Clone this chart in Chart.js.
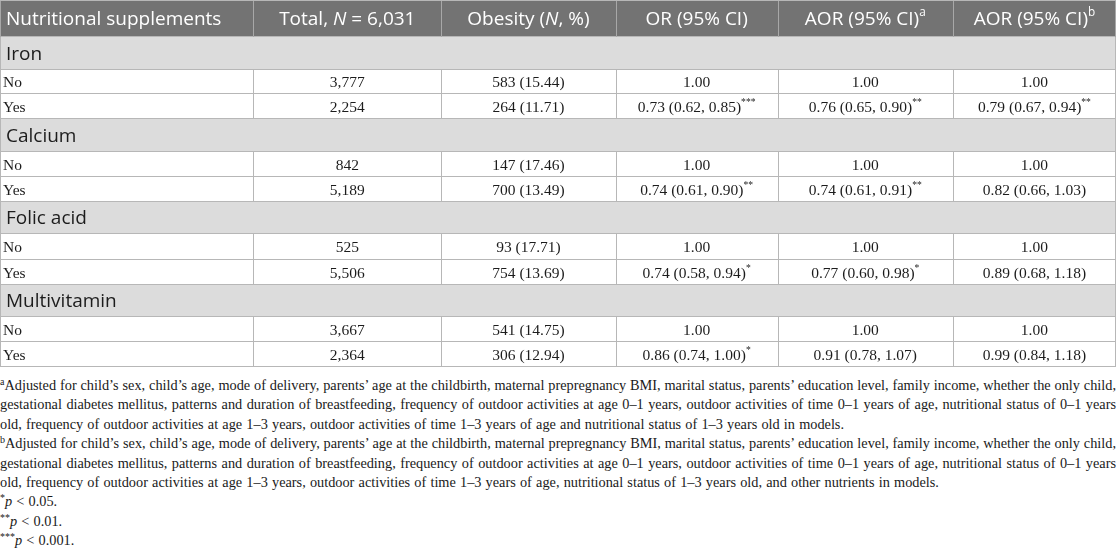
<!DOCTYPE html>
<html>
<head>
<meta charset="utf-8">
<script src="https://cdn.jsdelivr.net/npm/chart.js@4.4.1/dist/chart.umd.min.js"></script>
<style>
  html, body { margin: 0; padding: 0; background: #fff; }
  #wrap { width: 1116px; height: 367px; position: relative; }
  #notes { width: 1116px; margin-top: 9px; font-family: 'Liberation Serif', serif; font-size: 14.3px; line-height: 19.4px; color: #1a1a1a; }
  #notes div { text-align: justify; text-align-last: justify; white-space: nowrap; }
  #notes div.end { text-align-last: left; word-spacing: 0.6px; }
  #notes sup { font-size: 10px; line-height: 0; vertical-align: 5px; }
</style>
</head>
<body>
<div id="wrap"><canvas id="table"></canvas></div>
<div id="notes">
  <div><sup>a</sup>Adjusted for child’s sex, child’s age, mode of delivery, parents’ age at the childbirth, maternal prepregnancy BMI, marital status, parents’ education level, family income, whether the only child,</div>
  <div>gestational diabetes mellitus, patterns and duration of breastfeeding, frequency of outdoor activities at age 0–1 years, outdoor activities of time 0–1 years of age, nutritional status of 0–1 years</div>
  <div class="end">old, frequency of outdoor activities at age 1–3 years, outdoor activities of time 1–3 years of age and nutritional status of 1–3 years old in models.</div>
  <div><sup>b</sup>Adjusted for child’s sex, child’s age, mode of delivery, parents’ age at the childbirth, maternal prepregnancy BMI, marital status, parents’ education level, family income, whether the only child,</div>
  <div>gestational diabetes mellitus, patterns and duration of breastfeeding, frequency of outdoor activities at age 0–1 years, outdoor activities of time 0–1 years of age, nutritional status of 0–1 years</div>
  <div class="end">old, frequency of outdoor activities at age 1–3 years, outdoor activities of time 1–3 years of age, nutritional status of 1–3 years old, and other nutrients in models.</div>
  <div class="end"><sup>*</sup><i>p</i> &lt; 0.05.</div>
  <div class="end"><sup>**</sup><i>p</i> &lt; 0.01.</div>
  <div class="end"><sup>***</sup><i>p</i> &lt; 0.001.</div>
</div>
<script>
// Table data
const groups = ['Iron', 'Calcium', 'Folic acid', 'Multivitamin'];
const answers = ['No', 'Yes'];
const totalNo = [3777, 842, 525, 3667];
const totalYes = [2254, 5189, 5506, 2364];
const obeseNo = [583, 147, 93, 541];
const obeseYes = [264, 700, 754, 306];
const pctNo = [15.44, 17.46, 17.71, 14.75];
const pctYes = [11.71, 13.49, 13.69, 12.94];
const refValue = 1.00;
const orEst = [0.73, 0.74, 0.74, 0.86];
const orLow = [0.62, 0.61, 0.58, 0.74];
const orHigh = [0.85, 0.90, 0.94, 1.00];
const orSig = ['***', '**', '*', '*'];
const aorAEst = [0.76, 0.74, 0.77, 0.91];
const aorALow = [0.65, 0.61, 0.60, 0.78];
const aorAHigh = [0.90, 0.91, 0.98, 1.07];
const aorASig = ['**', '**', '*', ''];
const aorBEst = [0.79, 0.82, 0.89, 0.99];
const aorBLow = [0.67, 0.66, 0.68, 0.84];
const aorBHigh = [0.94, 1.03, 1.18, 1.18];
const aorBSig = ['**', '', '', ''];

// header text as runs (it = italic, sup = superscript)
const headers = [
  [{ t: 'Nutritional supplements' }],
  [{ t: 'Total, ' }, { t: 'N', it: true }, { t: ' = 6,031' }],
  [{ t: 'Obesity (' }, { t: 'N', it: true }, { t: ', %)' }],
  [{ t: 'OR (95% CI)' }],
  [{ t: 'AOR (95% CI)' }, { t: 'a', sup: true }],
  [{ t: 'AOR (95% CI)' }, { t: 'b', sup: true }]
];

// layout
const colUnits = [253, 188, 174, 162, 175, 163];
const rowUnits = { head: 1.48, group: 1.3, item: 1 };
const headBg = '#737373';
const groupBg = '#dcdcdc';
const lineColor = '#b7b7b7';
const headLine = '#a8a8a8';
const sansFont = "'Open Sans', sans-serif";
const serifFont = "'Liberation Serif', serif";

const fmtN = v => v.toLocaleString('en-US');
const fmtCI = (e, l, h, s) => {
  const runs = [{ t: `${e.toFixed(2)} (${l.toFixed(2)}, ${h.toFixed(2)})` }];
  if (s) runs.push({ t: s, sup: true });
  return runs;
};

// build the row list
const rows = [{ kind: 'head', cells: headers }];
groups.forEach((g, i) => {
  rows.push({ kind: 'group', label: g });
  rows.push({ kind: 'item', cells: [
    [{ t: answers[0] }], [{ t: fmtN(totalNo[i]) }], [{ t: `${obeseNo[i]} (${pctNo[i].toFixed(2)})` }],
    [{ t: refValue.toFixed(2) }], [{ t: refValue.toFixed(2) }], [{ t: refValue.toFixed(2) }]
  ] });
  rows.push({ kind: 'item', cells: [
    [{ t: answers[1] }], [{ t: fmtN(totalYes[i]) }], [{ t: `${obeseYes[i]} (${pctYes[i].toFixed(2)})` }],
    fmtCI(orEst[i], orLow[i], orHigh[i], orSig[i]),
    fmtCI(aorAEst[i], aorALow[i], aorAHigh[i], aorASig[i]),
    fmtCI(aorBEst[i], aorBLow[i], aorBHigh[i], aorBSig[i])
  ] });
});

const totalRows = rows.reduce((a, r) => a + rowUnits[r.kind], 0);
const totalCols = colUnits.reduce((a, c) => a + c, 0);

// draw a list of text runs at one baseline
function drawRuns(ctx, runs, x, y, align, size, family, color) {
  const fontOf = r => `${r.it ? 'italic ' : ''}${r.sup ? size * 0.62 : size}px ${family}`;
  let width = 0;
  runs.forEach(r => { ctx.font = fontOf(r); width += ctx.measureText(r.t).width; });
  let cx = align === 'center' ? x - width / 2 : x;
  ctx.fillStyle = color;
  ctx.textAlign = 'left';
  ctx.textBaseline = 'middle';
  runs.forEach(r => {
    ctx.font = fontOf(r);
    ctx.fillText(r.t, cx, r.sup ? y - size * 0.35 : y);
    cx += ctx.measureText(r.t).width;
  });
}

const tablePlugin = {
  id: 'tableCells',
  afterDraw(chart) {
    const { ctx, scales: { x, y } } = chart;
    const colEdges = [0];
    colUnits.forEach(c => colEdges.push(colEdges[colEdges.length - 1] + c));
    const px = v => Math.round(x.getPixelForValue(v)) + 0.5;
    const right = Math.round(x.getPixelForValue(totalCols)) - 0.5;

    ctx.save();
    let acc = 0;
    rows.forEach(row => {
      const top = Math.round(y.getPixelForValue(acc));
      const bottom = Math.round(y.getPixelForValue(acc + rowUnits[row.kind]));
      const mid = (top + bottom) / 2;
      acc += rowUnits[row.kind];

      // background
      if (row.kind !== 'item') {
        ctx.fillStyle = row.kind === 'head' ? headBg : groupBg;
        ctx.fillRect(x.left, top, x.right - x.left, bottom - top);
      }

      // text
      if (row.kind === 'group') {
        drawRuns(ctx, [{ t: row.label }], x.left + 6, mid + 1, 'left', 19, sansFont, '#1c1c1c');
      } else {
        row.cells.forEach((runs, c) => {
          const x0 = x.getPixelForValue(colEdges[c]);
          const x1 = x.getPixelForValue(colEdges[c + 1]);
          if (row.kind === 'head') {
            if (c === 0) drawRuns(ctx, runs, x0 + 6, mid + 1, 'left', 19, sansFont, '#ffffff');
            else drawRuns(ctx, runs, (x0 + x1) / 2, mid + 1, 'center', 19, sansFont, '#ffffff');
          } else {
            if (c === 0) drawRuns(ctx, runs, x0 + 3, mid + 1, 'left', 15.5, serifFont, '#1c1c1c');
            else drawRuns(ctx, runs, (x0 + x1) / 2, mid + 1, 'center', 15.5, serifFont, '#1c1c1c');
          }
        });
      }

      // lines
      ctx.lineWidth = 1;
      ctx.strokeStyle = lineColor;
      ctx.beginPath();
      ctx.moveTo(x.left, bottom - 0.5); ctx.lineTo(x.right, bottom - 0.5);
      ctx.stroke();
      ctx.strokeStyle = row.kind === 'head' ? headLine : lineColor;
      ctx.beginPath();
      const edges = row.kind === 'group' ? [0, totalCols] : colEdges;
      edges.forEach(e => {
        const ex = e === totalCols ? right : px(e);
        ctx.moveTo(ex, top); ctx.lineTo(ex, bottom);
      });
      ctx.stroke();
    });
    ctx.strokeStyle = lineColor;
    ctx.beginPath();
    ctx.moveTo(x.left, 0.5); ctx.lineTo(x.right, 0.5);
    ctx.stroke();
    ctx.restore();
  }
};

new Chart(document.getElementById('table'), {
  type: 'scatter',
  data: { datasets: [] },
  options: {
    responsive: true,
    maintainAspectRatio: false,
    animation: false,
    layout: { padding: 0 },
    plugins: { legend: { display: false }, tooltip: { enabled: false } },
    scales: {
      x: { type: 'linear', min: 0, max: totalCols, offset: false, display: false },
      y: { type: 'linear', min: 0, max: totalRows, reverse: true, offset: false, display: false }
    }
  },
  plugins: [tablePlugin]
});
</script>
</body>
</html>
